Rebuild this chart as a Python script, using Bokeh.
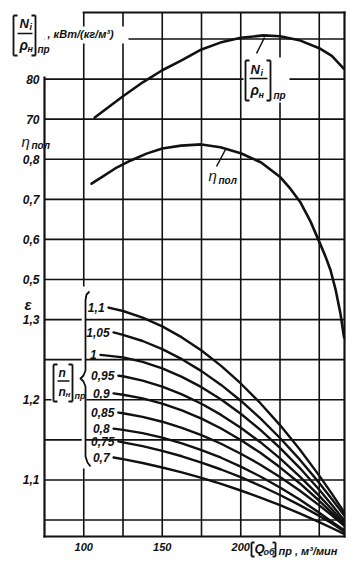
from bokeh.plotting import figure
from bokeh.models import Range1d, Label, Arrow
from bokeh.core.properties import value
from bokeh.embed import file_html
from bokeh.resources import INLINE

# ---------------- data ----------------
# reduced power [N_i / rho_n]_pr, kW/(kg/m3)
q_power = [107, 125, 137.6, 150, 162, 175, 187, 200, 214.6, 225, 238, 250, 258, 265.6]
power = [70.4, 75.7, 79.2, 82.2, 84.6, 87.4, 89.1, 90.3, 90.9, 90.7, 89.6, 87.7, 85.8, 82.6]

# polytropic efficiency
q_eff = [105, 111, 120, 130, 140, 150, 162, 175, 187, 200, 213, 225.3, 231.7, 238.1,
         244.4, 250.8, 254.0, 257.2, 260.4, 263.5, 265.8]
eff = [0.739, 0.754, 0.777, 0.797, 0.814, 0.827, 0.834, 0.837, 0.830, 0.815, 0.792,
       0.755, 0.726, 0.692, 0.645, 0.587, 0.557, 0.523, 0.475, 0.415, 0.355]

# pressure ratio for relative speeds [n/n_n]_pr
speed_labels = ["1,1", "1,05", "1", "0,95", "0,9", "0,85", "0,8", "0,75", "0,7"]
q_start = [115.8, 119.0, 110.7, 122.1, 119.0, 122.1, 119.0, 122.1, 119.0]
q_common = [125, 137.5, 150, 162.5, 175, 187.5, 200, 212.5, 225, 237.5, 250, 258, 265.8]
eps_11 = [1.315, 1.3107, 1.3025, 1.2915, 1.2778, 1.2614, 1.2422, 1.2203, 1.1957, 1.1684,
          1.1383, 1.1054, 1.0829, 1.0599]
eps_105 = [1.284, 1.2810, 1.2733, 1.2632, 1.2506, 1.2357, 1.2185, 1.1988, 1.1767, 1.1523,
           1.1256, 1.0963, 1.0763, 1.0559]
eps_10 = [1.256, 1.2528, 1.2472, 1.2391, 1.2285, 1.2157, 1.2003, 1.1826, 1.1625, 1.1399,
          1.1151, 1.0878, 1.0691, 1.0496]
eps_095 = [1.230, 1.2293, 1.2239, 1.2164, 1.2067, 1.1950, 1.1811, 1.1651, 1.1471, 1.1268,
           1.1045, 1.0801, 1.0634, 1.0461]
eps_09 = [1.208, 1.2063, 1.2017, 1.1952, 1.1867, 1.1764, 1.1641, 1.1499, 1.1338, 1.1157,
          1.0959, 1.0740, 1.0590, 1.0435]
eps_085 = [1.184, 1.1832, 1.1787, 1.1726, 1.1649, 1.1558, 1.1451, 1.1327, 1.1190, 1.1036,
           1.0868, 1.0683, 1.0558, 1.0429]
eps_08 = [1.164, 1.1625, 1.1583, 1.1527, 1.1457, 1.1373, 1.1277, 1.1166, 1.1043, 1.0905,
          1.0756, 1.0591, 1.0480, 1.0376]
eps_075 = [1.148, 1.1469, 1.1421, 1.1362, 1.1295, 1.1217, 1.1130, 1.1034, 1.0927, 1.0812,
           1.0686, 1.0551, 1.0459, 1.0357]
eps_07 = [1.128, 1.1259, 1.1211, 1.1155, 1.1094, 1.1025, 1.0950, 1.0868, 1.0780, 1.0685,
          1.0582, 1.0474, 1.0400, 1.0327]
eps_series = [eps_11, eps_105, eps_10, eps_095, eps_09, eps_085, eps_08, eps_075, eps_07]

power_ticks = [70, 80]
eff_ticks = [0.5, 0.6, 0.7, 0.8]
eps_ticks = [1.1, 1.2, 1.3]
q_ticks = [100, 150, 200]
q_grid = [100, 125, 150, 175, 200, 225, 250]
eps_grid = [1.05, 1.10, 1.15, 1.20, 1.25, 1.30, 1.35, 1.40, 1.45, 1.50, 1.55, 1.60, 1.65]

# ---------------- scales (canvas pixel <-> data) ----------------
W, H = 358, 565
PXQ = 1.57          # px per m3/min
PXE = 801.7         # px per unit of epsilon

def X(px):
    return 75 + (px - 44) / PXQ

def Y(py):
    return 1.35 + (279 - py) / PXE

def eps_from_eff(e):
    return 1.35 + (e - 0.5) / 2.0

def eps_from_power(n):
    return 1.6 + (n - 80) / 200.0

# plotting frame (inner box) in data units
q_lo, q_hi = 75.0, X(344)
e_lo, e_hi = Y(536), Y(12)

FONT = "Liberation Sans"
BLACK = "#111111"

p = figure(width=W, height=H, x_range=Range1d(X(0), X(W)), y_range=Range1d(Y(H), Y(0)),
           output_backend="svg", toolbar_location=None,
           x_axis_location=None, y_axis_location=None,
           min_border=0, min_border_left=0, min_border_right=0, min_border_top=0,
           min_border_bottom=0, outline_line_color=None,
           background_fill_color="white", border_fill_color="white")
p.grid.visible = False

# the other two scales share the same pixel mapping as epsilon
p.extra_y_ranges = {
    "eff": Range1d(0.5 + (Y(H) - 1.35) * 2, 0.5 + (Y(0) - 1.35) * 2),
    "power": Range1d(80 + (Y(H) - 1.6) * 200, 80 + (Y(0) - 1.6) * 200),
}

# ---------------- grid ----------------
p.segment(x0=q_grid, y0=[e_lo] * len(q_grid), x1=q_grid, y1=[e_hi] * len(q_grid),
          line_color=BLACK, line_width=1.6)
p.segment(x0=[q_lo] * len(eps_grid), y0=eps_grid, x1=[q_hi] * len(eps_grid), y1=eps_grid,
          line_color=BLACK, line_width=1.6)

# frame (left side and top left corner left open for the power-scale title)
p.segment(x0=[q_lo, q_hi, 100, q_lo], y0=[e_lo, e_lo, e_hi, e_lo],
          x1=[q_hi, q_hi, q_hi, q_lo], y1=[e_lo, e_hi, e_hi, Y(77)],
          line_color=BLACK, line_width=2.2, line_cap="square")

# ---------------- tick labels ----------------
ytick_pos, ytick_txt = [], []
for n in power_ticks:
    ytick_pos.append(eps_from_power(n)); ytick_txt.append(str(n))
for e in eff_ticks:
    ytick_pos.append(eps_from_eff(e)); ytick_txt.append(("%.1f" % e).replace(".", ","))
for e in eps_ticks:
    ytick_pos.append(e); ytick_txt.append(("%.1f" % e).replace(".", ","))

p.text(x=[q_lo] * len(ytick_pos), y=ytick_pos, text=ytick_txt, x_offset=-5,
       text_align="right", text_baseline="middle", text_font=value(FONT),
       text_font_style="bold italic", text_font_size="12px", text_color=BLACK)
p.text(x=q_ticks, y=[e_lo] * len(q_ticks), text=[str(q) for q in q_ticks], y_offset=6,
       text_align="center", text_baseline="top", text_font=value(FONT),
       text_font_style="bold italic", text_font_size="11px", text_color=BLACK)

# ---------------- white masks where labels sit on the grid ----------------
p.quad(left=X(44), right=X(128), top=Y(26), bottom=Y(43), fill_color="white", line_color=None)
p.quad(left=X(243), right=X(289), top=Y(57), bottom=Y(102), fill_color="white", line_color=None)
p.quad(left=X(51), right=X(86), top=Y(363), bottom=Y(403), fill_color="white", line_color=None)
p.segment(x0=[100], y0=[Y(286)], x1=[100], y1=[Y(468)], line_color="white", line_width=4)

# ---------------- curves ----------------
for qs, eps in zip(q_start, eps_series):
    p.line([qs] + q_common, eps, line_color=BLACK, line_width=2.4,
           line_join="round", line_cap="round")

p.line(q_eff, eff, y_range_name="eff", line_color=BLACK, line_width=2.6,
       line_join="round", line_cap="round")
p.line(q_power, power, y_range_name="power", line_color=BLACK, line_width=2.6,
       line_join="round", line_cap="round")

# curve labels for speeds (placed at each curve's start)
p.text(x=q_start, y=[e[0] for e in eps_series], text=speed_labels, x_offset=-4,
       text_align="right", text_baseline="middle", text_font=value(FONT),
       text_font_style="bold italic", text_font_size="12px", text_color=BLACK)

# brace
brace_px = [(89, 291), (86, 294), (85, 300), (85, 370), (83, 375), (80, 378), (83, 381),
            (85, 386), (85, 456), (87, 462), (90, 466)]
p.line([X(a) for a, b in brace_px], [Y(b) for a, b in brace_px], line_color=BLACK,
       line_width=1.8, line_join="round")

# ---------------- annotation helpers ----------------
def seg(xa_, ya_, xb, yb, w=1.8):
    p.add_layout(Arrow(x_start=X(xa_), y_start=Y(ya_), x_end=X(xb), y_end=Y(yb),
                       start=None, end=None, line_width=w, line_color=BLACK))

def lab(px, py, text, size, style="bold italic", align="left"):
    p.add_layout(Label(x=X(px), y=Y(py), text=text, text_font=FONT, text_font_style=style,
                       text_font_size=size, text_align=align, text_baseline="middle",
                       text_color=BLACK))

def bracket_frac(xl, xr, top, bot):
    seg(xl + 4, top, xl, top); seg(xl, top, xl, bot); seg(xl, bot, xl + 4, bot)
    seg(xr - 4, top, xr, top); seg(xr, top, xr, bot); seg(xr, bot, xr - 4, bot)
    mid = (top + bot) / 2
    seg(xl + 4, mid - 2, xr - 3, mid - 2, 1.4)

# top-left title of power scale
bracket_frac(13, 35, 15, 55)
lab(19, 23, "N", "13px")
lab(29, 26, "i", "9px")
lab(19, 44, "ρ", "14px")
lab(27, 48, "н", "9px")
lab(37, 49, "пр", "10px")
lab(47, 33, ", кВт/(кг/м³)", "11px")

# left scale titles
lab(21, 141, "η", "15px", "italic")
lab(31, 145, "пол", "10px")
lab(24, 304, "ε", "15px", "bold italic")

# label on power curve
bracket_frac(245, 270, 60, 100)
lab(250, 69, "N", "13px")
lab(260, 72, "i", "9px")
lab(250, 89, "ρ", "14px")
lab(258, 94, "н", "9px")
lab(273, 95, "пр", "10px")
seg(256, 53, 264, 37, 1.5)

# label on efficiency curve
lab(208, 175, "η", "15px", "italic")
lab(218, 180, "пол", "10px")
seg(216, 166, 225, 149, 1.5)

# speed legend title [n/n_н]_пр
bracket_frac(53, 72, 364, 401)
lab(58, 372, "n", "12px")
lab(58, 391, "n", "12px")
lab(65, 394, "н", "8px")
lab(74, 395, "пр", "9px")

# x-axis title
seg(254, 542, 251, 542); seg(251, 542, 251, 556); seg(251, 556, 254, 556)
lab(254, 548, "Q", "13px")
lab(263, 551, "об", "9px")
seg(272, 542, 275, 542); seg(275, 542, 275, 556); seg(275, 556, 272, 556)
lab(278, 550, "пр , м³/мин", "11px")

open("out.html", "w").write(file_html(p, INLINE))
